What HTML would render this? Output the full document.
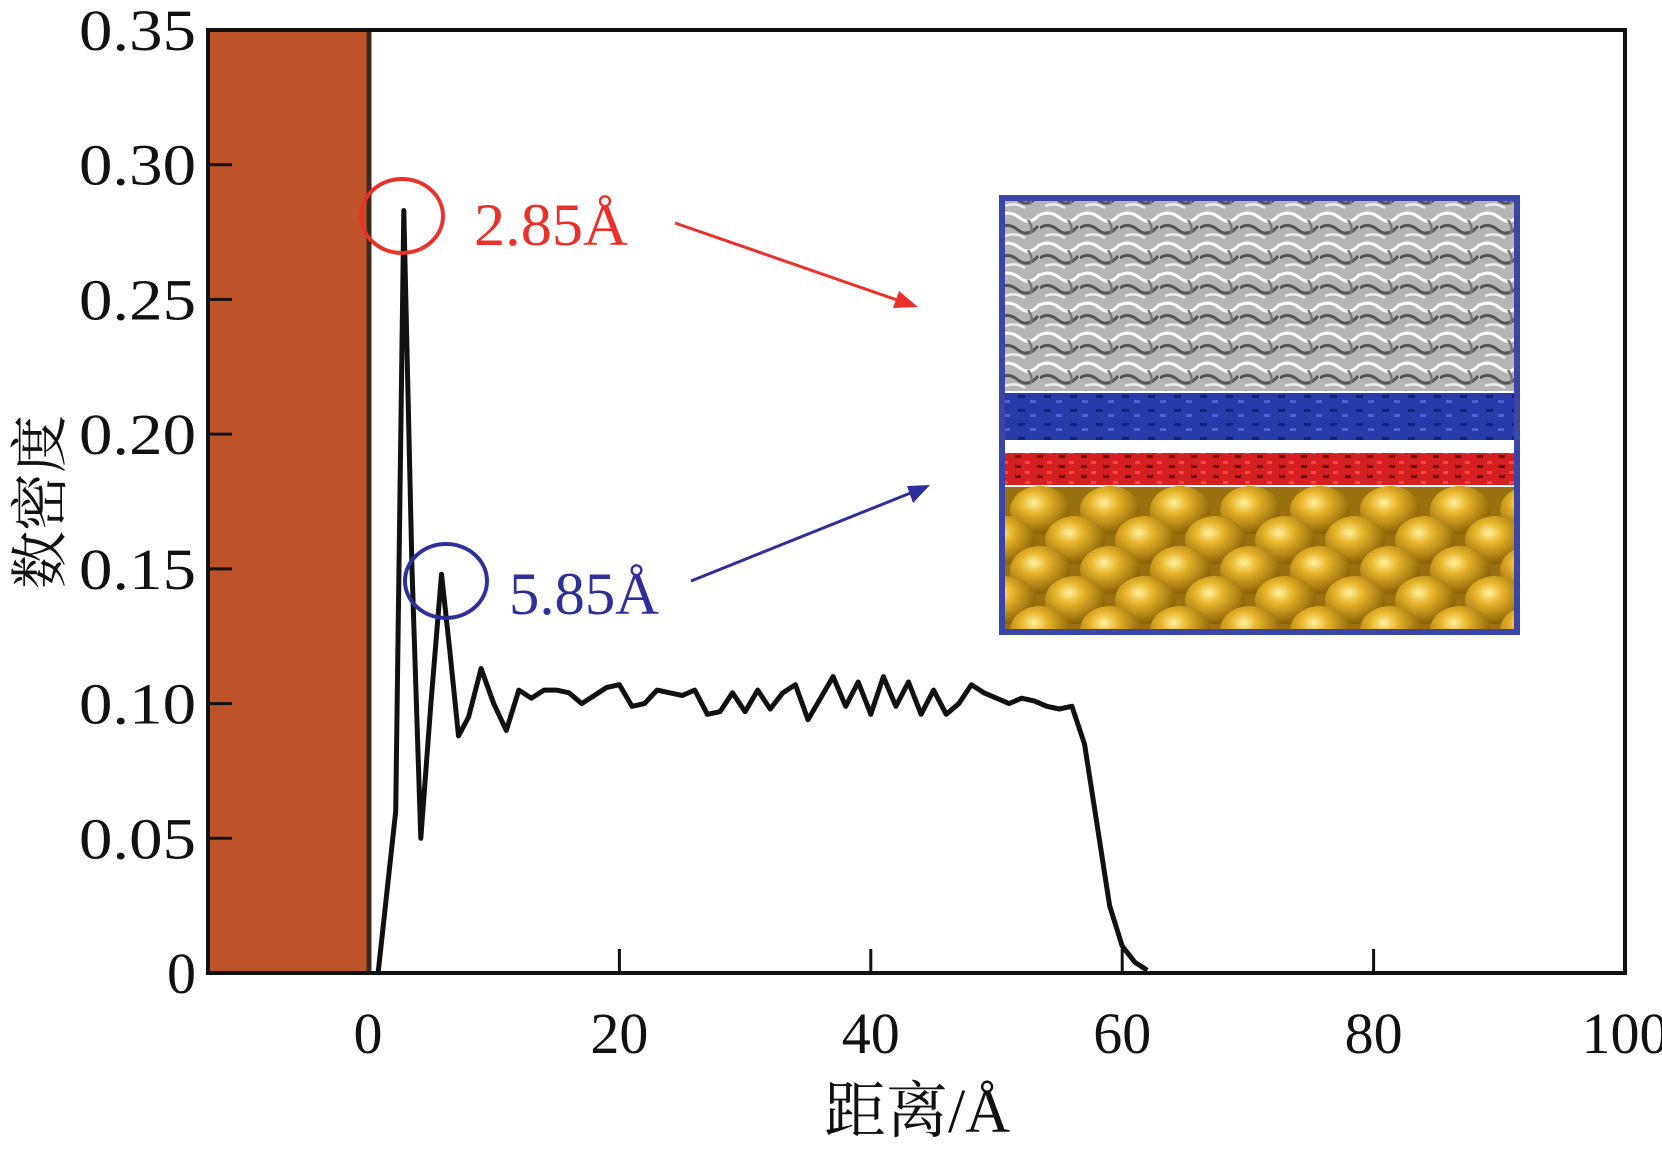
<!DOCTYPE html>
<html><head><meta charset="utf-8"><style>
html,body{margin:0;padding:0;background:#fff;}
svg{display:block;}
text{font-family:"Liberation Serif","Noto Serif CJK SC",serif;}
</style></head><body>
<svg id="chart" width="1662" height="1149" viewBox="0 0 1662 1149" xmlns="http://www.w3.org/2000/svg">
<defs>
<radialGradient id="gold" cx="0.4" cy="0.35" r="0.65">
<stop offset="0" stop-color="#fff1a0"/><stop offset="0.35" stop-color="#e8b42a"/><stop offset="1" stop-color="#8a6208"/>
</radialGradient>
<clipPath id="insetClip"><rect x="1004" y="200" width="511" height="430"/></clipPath>
<pattern id="grayTex" width="40" height="30" patternUnits="userSpaceOnUse">
<rect width="40" height="30" fill="#b5b5b5"/>
<path d="M0 5 Q10 0 20 8 T40 4" stroke="#fff" stroke-width="3" fill="none"/>
<path d="M0 18 Q8 12 18 20 T38 16" stroke="#555" stroke-width="3" fill="none"/>
<path d="M5 26 Q15 22 25 28" stroke="#eee" stroke-width="2.5" fill="none"/>
<path d="M28 10 Q34 18 30 24" stroke="#777" stroke-width="2.5" fill="none"/>
</pattern>
<pattern id="blueTex" width="26" height="14" patternUnits="userSpaceOnUse">
<rect width="26" height="14" fill="#2a3aa8"/><rect x="4" y="3" width="7" height="3" fill="#1a2070"/><rect x="16" y="8" width="6" height="3" fill="#5060d0"/>
</pattern>
<pattern id="redTex" width="22" height="10" patternUnits="userSpaceOnUse">
<rect width="22" height="10" fill="#d42020"/><rect x="3" y="5" width="6" height="3" fill="#6a0a0a"/><rect x="13" y="1" width="5" height="3" fill="#ff4040"/>
</pattern>
</defs>
<g id="plot"></g>
</svg>
<script>
const xTicks=[0,20,40,60,80,100];
const yTicks=[0,0.05,0.10,0.15,0.20,0.25,0.30,0.35];
const yTickLabels=["0","0.05","0.10","0.15","0.20","0.25","0.30","0.35"];
const xVals=[0.8,1.5,2.2,2.85,3.5,4.2,5,5.85,6.5,7.2,8,9,10,11,12,13,14,15,16,17,18,19,20,21,22,23,24,25,26,27,28,29,30,31,32,33,34,35,36,37,38,39,40,41,42,43,44,45,46,47,48,49,50,51,52,53,54,55,56,57,58,59,60,61,62];
const yVals=[0,0.03,0.06,0.283,0.15,0.05,0.1,0.148,0.12,0.088,0.095,0.113,0.1,0.09,0.105,0.102,0.105,0.105,0.104,0.1,0.103,0.106,0.107,0.099,0.1,0.105,0.104,0.103,0.105,0.096,0.097,0.104,0.097,0.105,0.098,0.104,0.107,0.094,0.102,0.11,0.099,0.108,0.096,0.11,0.099,0.108,0.096,0.105,0.096,0.1,0.107,0.104,0.102,0.1,0.102,0.101,0.099,0.098,0.099,0.085,0.055,0.025,0.01,0.004,0.001];
const NS="http://www.w3.org/2000/svg";
const L=208,R=1625,T=30,B=973;
const xMax=100,yMax=0.35;
function sx(v){return 368+v*(R-368)/xMax;}
function sy(v){return B-v*(B-T)/yMax;}
const g=document.getElementById('plot');
function mk(tag,attrs,parent){const e=document.createElementNS(NS,tag);for(const k in attrs)e.setAttribute(k,attrs[k]);(parent||g).appendChild(e);return e;}
let e=mk('rect',{x:L,y:T,width:sx(0)-L+3,height:B-T,fill:'#bd5429'});


e=mk('line',{x1:sx(0)+1,y1:T,x2:sx(0)+1,y2:B,stroke:'#3a2a22',"stroke-width":5});


yTicks.forEach((v,i)=>{
  if(v>0&&v<yMax){const t=mk('line',{x1:L,y1:sy(v),x2:L+24,y2:sy(v),stroke:'#111',"stroke-width":3});
  
  }
  const lb=mk('text',{x:196,y:sy(v)+20,"text-anchor":"end","font-size":58,fill:'#111'});
  if(i>0){lb.setAttribute('textLength',117);lb.setAttribute('lengthAdjust','spacingAndGlyphs');}
  lb.textContent=yTickLabels[i];
  
  
});
xTicks.forEach(v=>{
  if(v>0&&v<xMax){const t=mk('line',{x1:sx(v),y1:B,x2:sx(v),y2:B-24,stroke:'#111',"stroke-width":3});
  
  }
  const lb=mk('text',{x:sx(v),y:1053,"text-anchor":"middle","font-size":58,fill:'#111'});
  lb.textContent=String(v);
  
  
});
let d='';xVals.forEach((x,i)=>{d+=(i?'L':'M')+sx(x).toFixed(1)+' '+sy(yVals[i]).toFixed(1);});
e=mk('path',{d:d,fill:'none',stroke:'#111',"stroke-width":5,"stroke-linejoin":"round"});


e=mk('rect',{x:L,y:T,width:R-L,height:B-T,fill:'none',stroke:'#111',"stroke-width":4});


const ins=mk('g',{});


mk('rect',{x:1002,y:198,width:515,height:434,fill:'#fff'},ins);
const cg=mk('g',{"clip-path":"url(#insetClip)"},ins);
mk('rect',{x:1004,y:200,width:511,height:191,fill:'url(#grayTex)'},cg);
mk('rect',{x:1004,y:393,width:511,height:47,fill:'url(#blueTex)'},cg);
mk('rect',{x:1004,y:453,width:511,height:32,fill:'url(#redTex)'},cg);
mk('rect',{x:1004,y:487,width:511,height:143,fill:'#9a7010'},cg);
for(let r=0;r<5;r++){for(let c=-1;c<9;c++){
  const cx=1040+c*70+(r%2?35:0), cy=510+r*30;
  mk('ellipse',{cx:cx,cy:cy,rx:30,ry:24,fill:'url(#gold)'},cg);
}}
mk('rect',{x:1002,y:198,width:515,height:434,fill:'none',stroke:'#3a45a8',"stroke-width":6},ins);
</script>
<svg width="1662" height="1149" style="position:absolute;left:0;top:0" xmlns="http://www.w3.org/2000/svg">
<ellipse cx="402" cy="216" rx="41" ry="37" fill="none" stroke="#e8312a" stroke-width="4"/>
<text x="474" y="245" font-size="60" textLength="154" lengthAdjust="spacingAndGlyphs" fill="#e8312a" font-family="Liberation Serif, serif">2.85Å</text>
<line x1="675" y1="223" x2="900" y2="301" stroke="#e8312a" stroke-width="3"/>
<polygon points="918,307 893,308 899,291" fill="#e8312a"/>
<ellipse cx="446" cy="581" rx="41" ry="37" fill="none" stroke="#2f2f9a" stroke-width="4"/>
<text x="509" y="614" font-size="60" textLength="150" lengthAdjust="spacingAndGlyphs" fill="#2f2f9a" font-family="Liberation Serif, serif">5.85Å</text>
<line x1="691" y1="581" x2="913" y2="492" stroke="#2f2f9a" stroke-width="3"/>
<polygon points="930,485 913,503 907,486" fill="#2f2f9a"/>
<text x="917" y="1132" text-anchor="middle" font-size="62" fill="#111" font-family="Liberation Serif, Noto Serif CJK SC, serif">距离/Å</text>
<text x="0" y="0" transform="translate(60,502) rotate(-90)" text-anchor="middle" font-size="58" fill="#111" font-family="Liberation Serif, Noto Serif CJK SC, serif">数密度</text>
</svg>
</body></html>
